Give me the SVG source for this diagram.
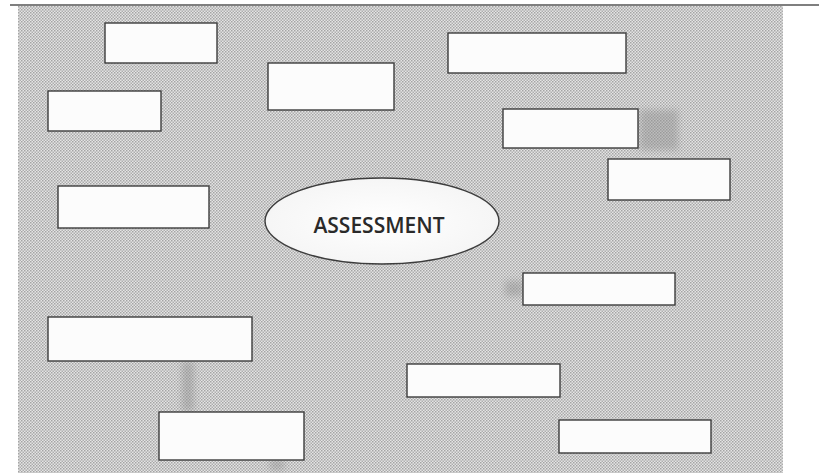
<svg xmlns="http://www.w3.org/2000/svg" width="819" height="473" viewBox="0 0 819 473">
  <defs>
    <pattern id="dots" width="3" height="3" patternUnits="userSpaceOnUse">
      <rect width="3" height="3" fill="#e4e4e4"/>
      <rect x="0" y="0" width="1.5" height="1.5" fill="#a4a4a4"/>
      <rect x="1.5" y="1.5" width="1.5" height="1.5" fill="#aeaeae"/>
    </pattern>
    <radialGradient id="ellfill" cx="0.5" cy="0.5" r="0.6">
      <stop offset="0" stop-color="#ffffff"/>
      <stop offset="0.8" stop-color="#f6f6f6"/>
      <stop offset="1" stop-color="#e6e6e6"/>
    </radialGradient>
    <filter id="blur" x="-50%" y="-50%" width="200%" height="200%">
      <feGaussianBlur stdDeviation="3"/>
    </filter>
  </defs>
  <style>
    .box { fill: #fcfcfc; stroke: #3c3c3c; stroke-width: 1.4; }
    .conn { fill: #8e8e8e; opacity: 0.45; filter: url(#blur); }
    .label { font-family: "Open Sans", "Liberation Sans", sans-serif; font-weight: 600; font-size: 21px; fill: #2a2a2a; }
  </style>
  <rect width="819" height="473" fill="#ffffff"/>
  <rect x="18" y="6" width="765" height="467" fill="url(#dots)"/>
  <line x1="10" y1="5" x2="819" y2="5" stroke="#555555" stroke-width="1.3"/>

  <g id="connectors">
    <rect class="conn" x="640" y="110" width="38" height="40"/>
    <rect class="conn" x="505" y="281" width="18" height="15"/>
    <rect class="conn" x="182" y="362" width="12" height="49"/>
    <rect class="conn" x="270" y="460" width="14" height="10"/>
  </g>

  <g id="node1"><rect class="box" x="105" y="23" width="112" height="40"/></g>
  <g id="node2"><rect class="box" x="448" y="33" width="178" height="40"/></g>
  <g id="node3"><rect class="box" x="268" y="63" width="126" height="47"/></g>
  <g id="node4"><rect class="box" x="48" y="91" width="113" height="40"/></g>
  <g id="node5"><rect class="box" x="503" y="109" width="135" height="39"/></g>
  <g id="node6"><rect class="box" x="608" y="159" width="122" height="41"/></g>
  <g id="node7"><rect class="box" x="58" y="186" width="151" height="42"/></g>
  <g id="center">
    <ellipse cx="382" cy="221" rx="117" ry="43" fill="url(#ellfill)" stroke="#3c3c3c" stroke-width="1.4"/>
    <text class="label" x="379" y="233" text-anchor="middle">ASSESSMENT</text>
  </g>
  <g id="node9"><rect class="box" x="523" y="273" width="152" height="32"/></g>
  <g id="node10"><rect class="box" x="48" y="317" width="204" height="44"/></g>
  <g id="node11"><rect class="box" x="407" y="364" width="153" height="33"/></g>
  <g id="node12"><rect class="box" x="159" y="412" width="145" height="48"/></g>
  <g id="node13"><rect class="box" x="559" y="420" width="152" height="33"/></g>
</svg>
